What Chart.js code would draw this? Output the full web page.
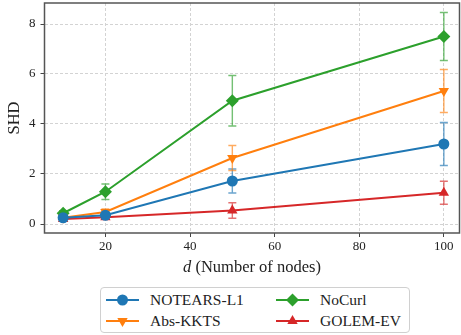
<!DOCTYPE html>
<html>
<head>
<meta charset="utf-8">
<script src="https://cdn.jsdelivr.net/npm/chart.js@4.4.1/dist/chart.umd.min.js"></script>
<style>
  html, body { margin: 0; padding: 0; background: #fff; }
  #wrap { position: relative; width: 461px; height: 335px; }
  #legend {
    position: absolute; left: 100px; top: 287px; width: 308px; height: 44px;
    border: 1px solid #d0d0d0; border-radius: 4px; background: #fff;
    font-family: "Liberation Serif", serif; font-size: 15.5px; color: #222;
  }
  .item { position: absolute; height: 20px; line-height: 20px; }
  .item canvas { position: absolute; left: 0; top: 0; }
  .item span { position: absolute; left: 44px; top: 0; white-space: nowrap; }
</style>
</head>
<body>
<div id="wrap">
  <canvas id="chart" width="461" height="285"></canvas>
  <div id="legend"></div>
</div>
<script>
const nodes = [10, 20, 50, 100]
const xTicks = [20, 40, 60, 80, 100]
const yTicks = [0, 2, 4, 6, 8]

const notearsMean = [0.25, 0.35, 1.72, 3.2]
const notearsStd = [0.08, 0.1, 0.48, 0.86]
const absKktsMean = [0.25, 0.48, 2.64, 5.32]
const absKktsStd = [0.08, 0.12, 0.5, 0.86]
const noCurlMean = [0.43, 1.29, 4.93, 7.5]
const noCurlStd = [0.1, 0.31, 1.01, 0.96]
const golemMean = [0.2, 0.27, 0.54, 1.25]
const golemStd = [0.05, 0.08, 0.31, 0.46]

const series = [
  { label: 'NOTEARS-L1', mean: notearsMean, std: notearsStd, color: '#1f77b4', style: 'circle', rot: 0, r: 5.5 },
  { label: 'Abs-KKTS', mean: absKktsMean, std: absKktsStd, color: '#ff7f0e', style: 'triangle', rot: 180, r: 6 },
  { label: 'NoCurl', mean: noCurlMean, std: noCurlStd, color: '#2ca02c', style: 'rectRot', rot: 0, r: 6.5 },
  { label: 'GOLEM-EV', mean: golemMean, std: golemStd, color: '#d62728', style: 'triangle', rot: 0, r: 6 },
]

const font = "Liberation Serif"

// error bars, drawn through the scales
const errorBars = {
  id: 'errorBars',
  beforeDatasetsDraw(chart) {
    const { ctx, scales: { x, y } } = chart
    ctx.save()
    chart.data.datasets.forEach((ds) => {
      ctx.strokeStyle = ds.borderColor + 'a8'
      ctx.lineWidth = 1.4
      ds.data.forEach((p, i) => {
        const px = x.getPixelForValue(p.x)
        const lo = y.getPixelForValue(p.y - ds.std[i])
        const hi = y.getPixelForValue(p.y + ds.std[i])
        ctx.beginPath()
        ctx.moveTo(px, lo); ctx.lineTo(px, hi)
        ctx.moveTo(px - 4, lo); ctx.lineTo(px + 4, lo)
        ctx.moveTo(px - 4, hi); ctx.lineTo(px + 4, hi)
        ctx.stroke()
      })
    })
    ctx.restore()
  },
}

// frame and axis titles
const frame = {
  id: 'frame',
  afterDraw(chart) {
    const { ctx, chartArea: a } = chart
    ctx.save()
    ctx.strokeStyle = '#555'
    ctx.lineWidth = 1.5
    ctx.strokeRect(a.left, a.top, a.right - a.left, a.bottom - a.top)

    ctx.fillStyle = '#222'
    ctx.textBaseline = 'middle'
    const cx = (a.left + a.right) / 2
    ctx.font = 'italic 16.5px ' + font
    const dW = ctx.measureText('d').width
    ctx.font = '16.5px ' + font
    const rest = ' (Number of nodes)'
    const rW = ctx.measureText(rest).width
    const x0 = cx - (dW + rW) / 2
    ctx.textAlign = 'left'
    ctx.font = 'italic 16.5px ' + font
    ctx.fillText('d', x0, 268)
    ctx.font = '16.5px ' + font
    ctx.fillText(rest, x0 + dW, 268)

    ctx.translate(15, (a.top + a.bottom) / 2)
    ctx.rotate(-Math.PI / 2)
    ctx.textAlign = 'center'
    ctx.fillText('SHD', 0, 0)
    ctx.restore()
  },
}

const chart = new Chart(document.getElementById('chart'), {
  type: 'line',
  data: {
    datasets: series.map((s) => ({
      label: s.label,
      data: nodes.map((n, i) => ({ x: n, y: s.mean[i] })),
      std: s.std,
      borderColor: s.color,
      backgroundColor: s.color,
      borderWidth: 2,
      pointStyle: s.style,
      pointRotation: s.rot,
      pointRadius: s.r,
      pointBorderWidth: 0,
      tension: 0,
    })),
  },
  options: {
    responsive: false,
    animation: false,
    layout: { autoPadding: false, padding: { top: 3, right: 1.5, left: 0, bottom: 0 } },
    plugins: { legend: { display: false }, tooltip: { enabled: false } },
    scales: {
      x: {
        type: 'linear',
        min: 5.6,
        max: 103.7,
        afterBuildTicks: (s) => { s.ticks = xTicks.map((v) => ({ value: v })) },
        afterFit: (s) => { s.height = 52; s.paddingLeft = 0; s.paddingRight = 0 },
        grid: { color: '#d3d3d3', tickColor: '#444', tickLength: 4, tickBorderDash: [] },
        border: { display: false, dash: [3, 2] },
        ticks: { color: '#222', padding: 2, maxRotation: 0, font: { family: font, size: 13 } },
      },
      y: {
        min: -0.36,
        max: 8.84,
        afterBuildTicks: (s) => { s.ticks = yTicks.map((v) => ({ value: v })) },
        afterFit: (s) => { s.width = 44.5; s.paddingTop = 0; s.paddingBottom = 0 },
        grid: { color: '#d3d3d3', tickColor: '#444', tickLength: 4, tickBorderDash: [] },
        border: { display: false, dash: [3, 2] },
        ticks: { color: '#222', padding: 5, font: { family: font, size: 13 } },
      },
    },
  },
  plugins: [errorBars, frame],
})

// legend, two columns, built from the datasets
const legend = document.getElementById('legend')
const slots = [[5, 2], [5, 23], [175, 2], [175, 23]]
chart.data.datasets.forEach((ds, i) => {
  const item = document.createElement('div')
  item.className = 'item'
  item.style.left = slots[i][0] + 'px'
  item.style.top = slots[i][1] + 'px'
  const c = document.createElement('canvas')
  c.width = 40; c.height = 20
  const g = c.getContext('2d')
  g.strokeStyle = ds.borderColor
  g.lineWidth = 2
  g.beginPath(); g.moveTo(0, 10); g.lineTo(33, 10); g.stroke()
  g.fillStyle = ds.backgroundColor
  Chart.helpers.drawPoint(g, { pointStyle: ds.pointStyle, rotation: ds.pointRotation, radius: ds.pointRadius, borderWidth: 0 }, 16.5, 10)
  item.appendChild(c)
  const t = document.createElement('span')
  t.textContent = ds.label
  item.appendChild(t)
  legend.appendChild(item)
})
</script>
</body>
</html>
